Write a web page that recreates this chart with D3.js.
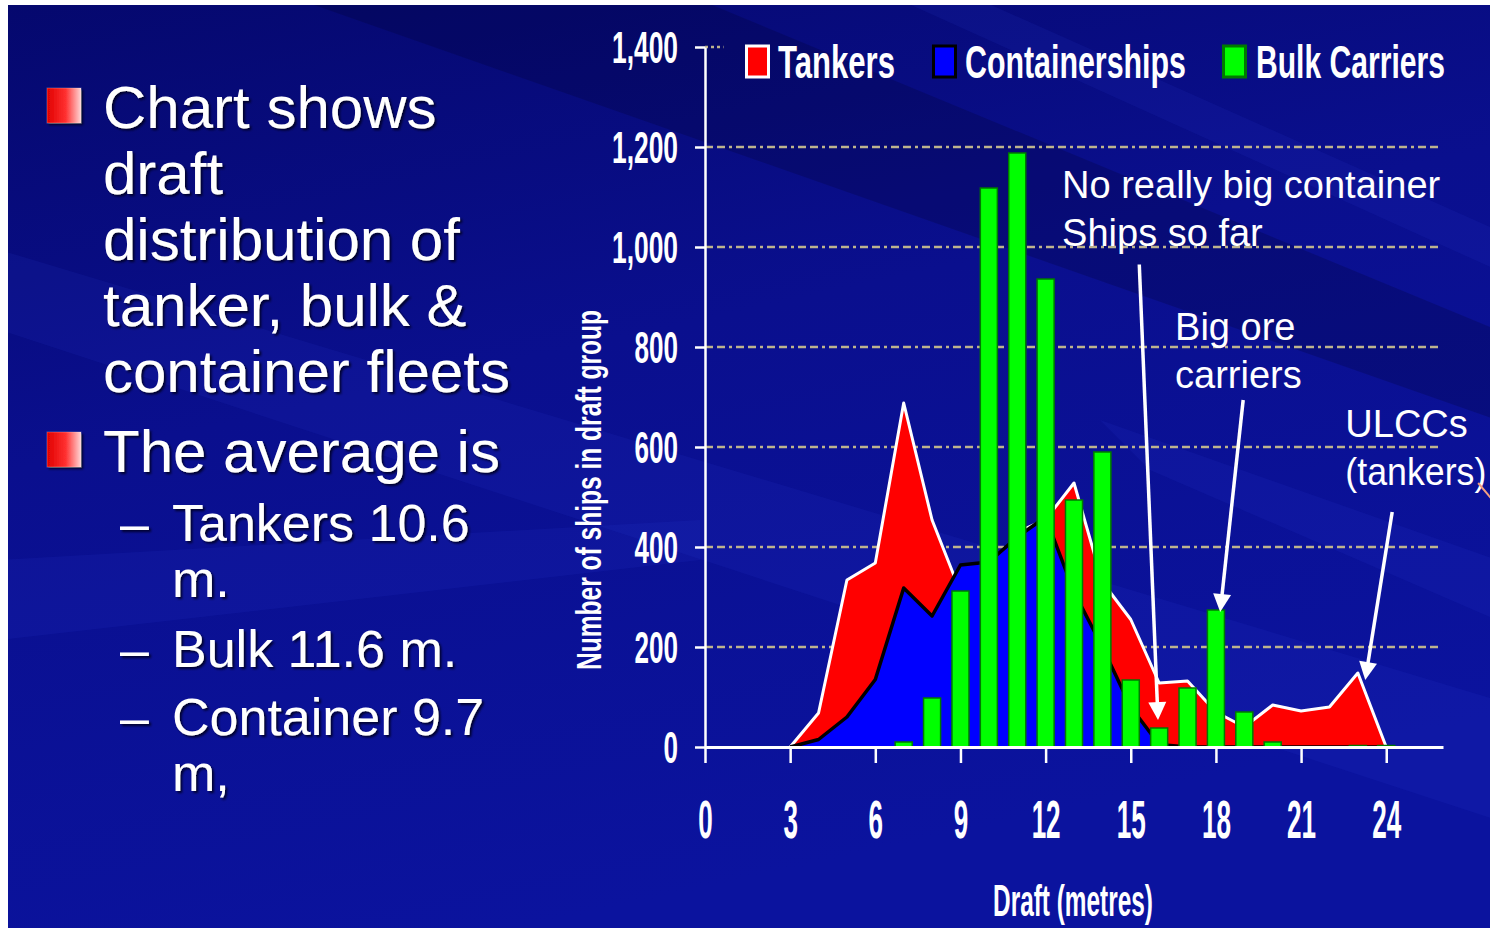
<!DOCTYPE html>
<html><head><meta charset="utf-8">
<script src="https://cdn.jsdelivr.net/npm/d3@7"></script>
<style>
html,body{margin:0;padding:0;background:#fff;}
svg{display:block;}
</style></head>
<body><svg id="c" width="1497" height="933"></svg>
<script>
// ---------- data ----------
const drafts       = [3, 4, 5, 6, 7, 8, 9, 10, 11, 12, 13, 14, 15, 16, 17, 18, 19, 20, 21, 22, 23, 24];
const tankers      = [0, 68, 334, 368, 688, 454, 310, 335, 430, 455, 528, 330, 255, 128, 132, 70, 40, 84, 72, 80, 148, 0];
const containers   = [0, 15, 60, 135, 318, 262, 364, 370, 420, 460, 310, 200, 80, 5, 0, 0, 0, 0, 0, 0, 0, 0];
const bulkCarriers = [0, 0, 0, 0, 10, 98, 312, 1118, 1188, 936, 494, 590, 134, 38, 118, 274, 70, 10, 0, 0, 3, 3];
const yTickValues  = [0, 200, 400, 600, 800, 1000, 1200, 1400];
const xTickValues  = [0, 3, 6, 9, 12, 15, 18, 21, 24];
const seriesNames  = ["Tankers", "Containerships", "Bulk Carriers"];
const seriesColors = ["#ff0000", "#0000ff", "#00ff00"];
const yTitle = "Number of ships in draft group";
const xTitle = "Draft (metres)";
const bulletMain = [["Chart shows", "draft", "distribution of", "tanker, bulk &", "container fleets"], ["The average is"]];
const bulletSub  = [["Tankers 10.6", "m."], ["Bulk 11.6 m."], ["Container 9.7", "m,"]];
const noteTexts  = [["No really big container", "Ships so far"], ["Big ore", "carriers"], ["ULCCs", "(tankers)"]];
const noteAnchors = [[12.58, 1098], [16.56, 814], [22.56, 620]];           // [draft, ships] of first text line
const noteArrows  = [[15.3, 965, 15.96, 54], [18.96, 694, 18.15, 270], [24.21, 470, 23.26, 134]];

// ---------- setup ----------
const svg = d3.select("#c");
const defs = svg.append("defs");
const bg = defs.append("linearGradient").attr("id","bg").attr("x1","0").attr("y1","0").attr("x2","0.35").attr("y2","1");
bg.append("stop").attr("offset","0").attr("stop-color","#05086e");
bg.append("stop").attr("offset","0.45").attr("stop-color","#0a0f8e");
bg.append("stop").attr("offset","1").attr("stop-color","#0b139e");
const bul = defs.append("linearGradient").attr("id","bul");
bul.append("stop").attr("offset","0").attr("stop-color","#e00000");
bul.append("stop").attr("offset","0.55").attr("stop-color","#ff3030");
bul.append("stop").attr("offset","1").attr("stop-color","#ffd6d6");
const sh = defs.append("filter").attr("id","sh").attr("x","-5%").attr("y","-5%").attr("width","115%").attr("height","130%");
sh.append("feDropShadow").attr("dx",2).attr("dy",2).attr("stdDeviation",1).attr("flood-color","#000020").attr("flood-opacity",0.9);
defs.append("clipPath").attr("id","frame").append("rect").attr("x",8).attr("y",5).attr("width",1482).attr("height",923);

const root = svg.append("g").attr("clip-path","url(#frame)");
root.append("rect").attr("x",8).attr("y",5).attr("width",1482).attr("height",923).attr("fill","url(#bg)");
// subtle diagonal streaks of the slide background
const streaks = [
  [[300,0],[700,0],[1497,330],[1497,420]],
  [[0,250],[0,330],[1497,820],[1497,700]],
  [[900,0],[980,0],[1497,230],[1497,270]],
  [[0,560],[0,640],[700,560],[700,520]],
  [[1100,420],[1497,560],[1497,620],[1150,470]]
];
root.selectAll("path.streak").data(streaks).join("path").attr("class","streak")
  .attr("d", d => "M" + d.map(p => p.join(",")).join("L") + "Z")
  .attr("fill", (d,i) => i===0 ? "rgba(0,0,40,0.22)" : "rgba(70,90,255,0.08)");

const x = d3.scaleLinear().domain([0, 26]).range([705, 1443]);
const y = d3.scaleLinear().domain([0, 1400]).range([747, 47]);
const narrow = "'Liberation Sans Narrow','Liberation Sans',Arial,sans-serif";
const regular = "'Liberation Sans',Arial,sans-serif";
// squeeze a text horizontally to a given width, keeping its anchor point
function squeeze(sel, wFn) {
  sel.each(function(d, i) {
    const t = d3.select(this);
    const tx = +t.attr("x") || 0, ty = +t.attr("y") || 0;
    t.attr("x", 0).attr("y", 0);
    const nat = this.getComputedTextLength();
    const w = typeof wFn === "function" ? wFn(d, i) : wFn;
    t.attr("transform", `translate(${tx},${ty}) scale(${w / nat},1)`);
  });
}
function labelWidth(s, dw, cw) { let w = 0; for (const ch of String(s)) w += (ch === ",") ? cw : dw; return w; }

// ---------- left bullet text ----------
const left = root.append("g").attr("filter","url(#sh)").attr("fill","#fff").attr("font-family",regular);
const mainBase = [128, 472];
bulletMain.forEach((lines, bi) => {
  left.append("rect").attr("x",47).attr("y",mainBase[bi]-40).attr("width",34).attr("height",35)
    .attr("fill","url(#bul)").attr("stroke","#ffffff").attr("stroke-opacity",0.25);
  lines.forEach((t, li) => left.append("text").attr("x",103).attr("y",mainBase[bi] + li*66)
    .attr("font-size",60).text(t));
});
const subBase = [541, 667, 735];
bulletSub.forEach((lines, si) => {
  left.append("text").attr("x",120).attr("y",subBase[si]).attr("font-size",52).text("–");
  lines.forEach((t, li) => left.append("text").attr("x",172).attr("y",subBase[si] + li*56)
    .attr("font-size",52).text(t));
});

// ---------- grid ----------
const plot = root.append("g");
plot.selectAll("line.grid").data(yTickValues.filter(v => v > 0 && v < 1400)).join("line").attr("class","grid")
  .attr("x1", x(0)).attr("x2", x(25.9)).attr("y1", d => y(d)).attr("y2", d => y(d))
  .attr("stroke","#bdb38e").attr("stroke-width",2.5).attr("stroke-dasharray","8,4,8,4,3,4");
plot.append("line").attr("x1", x(0)).attr("x2", x(0.65)).attr("y1", y(1400)).attr("y2", y(1400))
  .attr("stroke","#bdb38e").attr("stroke-width",2.5).attr("stroke-dasharray","3,3");

// ---------- areas ----------
const area = d3.area().x((d,i) => x(drafts[i])).y0(y(0)).y1(d => y(d));
const line = d3.line().x((d,i) => x(drafts[i])).y(d => y(d));
plot.append("path").datum(tankers).attr("d", area).attr("fill", seriesColors[0]);
plot.append("path").datum(tankers).attr("d", line).attr("fill","none").attr("stroke","#fff").attr("stroke-width",3).attr("stroke-linejoin","round");
plot.append("path").datum(containers).attr("d", area).attr("fill", seriesColors[1]);
plot.append("path").datum(containers).attr("d", line).attr("fill","none").attr("stroke","#000").attr("stroke-width",3.5).attr("stroke-linejoin","round");

// ---------- bars ----------
const bw = (x(1) - x(0)) * 0.6;
plot.selectAll("rect.bar").data(bulkCarriers.map((v,i) => ({d: drafts[i], v})).filter(o => o.v > 0)).join("rect").attr("class","bar")
  .attr("x", o => x(o.d) - bw/2).attr("width", bw)
  .attr("y", o => y(o.v)).attr("height", o => y(0) - y(o.v))
  .attr("fill", seriesColors[2]).attr("stroke","#007a00").attr("stroke-width",1.5);

// ---------- axes ----------
const yAxis = plot.append("g").attr("transform", `translate(${x(0)},0)`)
  .call(d3.axisLeft(y).tickValues(yTickValues).tickSize(10).tickSizeOuter(0).tickPadding(17).tickFormat(d3.format(",")));
yAxis.select(".domain").attr("stroke","#fff").attr("stroke-width",2.5);
yAxis.selectAll(".tick line").attr("stroke","#fff").attr("stroke-width",2.5);
yAxis.selectAll(".tick text").attr("fill","#fff").attr("font-family",narrow).attr("font-weight","bold")
  .attr("font-size",44).attr("dy","0.36em").call(squeeze, d => labelWidth(d3.format(",")(d), 14.5, 8));

const xAxis = plot.append("g").attr("transform", `translate(0,${y(0)})`)
  .call(d3.axisBottom(x).tickValues(xTickValues).tickSize(16).tickSizeOuter(0).tickPadding(37));
xAxis.select(".domain").attr("stroke","#fff").attr("stroke-width",3);
xAxis.selectAll(".tick line").attr("stroke","#fff").attr("stroke-width",2.5);
xAxis.selectAll(".tick text").attr("fill","#fff").attr("font-family",narrow).attr("font-weight","bold")
  .attr("font-size",54).attr("dy","0.71em").call(squeeze, d => labelWidth(d, 14.5, 7));

// axis titles
plot.append("g").attr("transform","translate(601,490) rotate(-90)")
  .append("text").attr("text-anchor","middle")
  .attr("fill","#fff").attr("font-family",narrow).attr("font-weight","bold").attr("font-size",35)
  .text(yTitle).call(squeeze, 360);
plot.append("text").attr("x",1073).attr("y",916).attr("text-anchor","middle")
  .attr("fill","#fff").attr("font-family",narrow).attr("font-weight","bold").attr("font-size",44)
  .text(xTitle).call(squeeze, 160);

// ---------- legend ----------
const legendX = [745, 932, 1222];
const legendTextX = [778, 965, 1256];
const legendW = [117, 221, 189];
const legendStroke = ["#ffffff", "#000000", "#007a00"];
const lg = plot.append("g");
seriesNames.forEach((n, i) => {
  lg.append("rect").attr("x", legendX[i]+1.5).attr("y", 46).attr("width", 22).attr("height", 31)
    .attr("fill", seriesColors[i]).attr("stroke", legendStroke[i]).attr("stroke-width", 3);
  lg.append("text").attr("x", legendTextX[i]).attr("y", 78).attr("fill","#fff")
    .attr("font-family",narrow).attr("font-weight","bold").attr("font-size",46).text(n).call(squeeze, legendW[i]);
});

// ---------- annotations ----------
const notes = plot.append("g").attr("fill","#fff").attr("font-family",regular).attr("font-size",38);
noteTexts.forEach((lines, i) => lines.forEach((t, li) => {
  const tx = notes.append("text").attr("x", x(noteAnchors[i][0])).attr("y", y(noteAnchors[i][1]) + li*48).text(t);
  if (i === 2 && li === 1) tx.call(squeeze, 141);
}));
const arrows = plot.append("g");
noteArrows.forEach(a => {
  const x1 = x(a[0]), y1 = y(a[1]), x2 = x(a[2]), y2 = y(a[3]);
  const ang = Math.atan2(y2 - y1, x2 - x1);
  arrows.append("line").attr("x1",x1).attr("y1",y1).attr("x2",x2 - 10*Math.cos(ang)).attr("y2",y2 - 10*Math.sin(ang))
    .attr("stroke","#fff").attr("stroke-width",3.5);
  const s = 9, L = 18;
  const bx = x2 - L*Math.cos(ang), by = y2 - L*Math.sin(ang);
  const px = -Math.sin(ang)*s, py = Math.cos(ang)*s;
  arrows.append("path").attr("d", `M${x2},${y2}L${bx+px},${by+py}L${bx-px},${by-py}Z`).attr("fill","#fff");
});
// stray piece of another annotation at the right edge
plot.append("line").attr("x1", x(27.24)).attr("y1", y(528)).attr("x2", x(27.95)).attr("y2", y(480))
  .attr("stroke","#f4a080").attr("stroke-width",2);
</script>
</body></html>
